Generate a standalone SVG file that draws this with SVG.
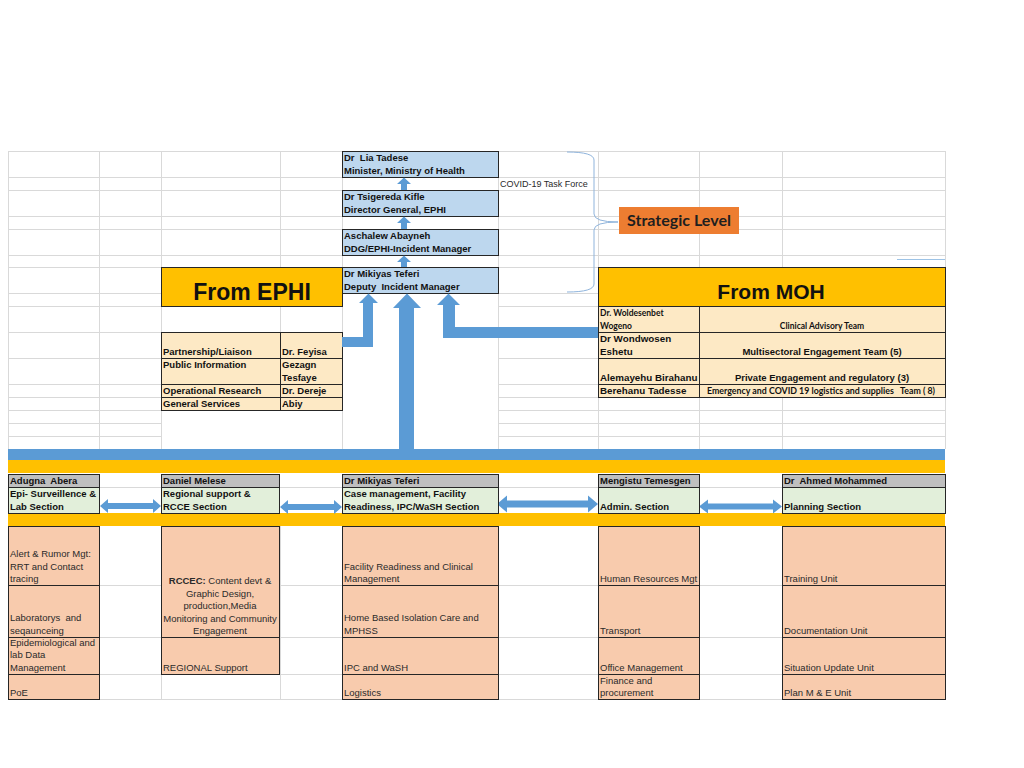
<svg xmlns="http://www.w3.org/2000/svg" width="1024" height="768" viewBox="0 0 1024 768">
<style>
.grid line{stroke:#D9D9D9;stroke-width:1}
.bx{stroke:#262626;stroke-width:1}
.blue{fill:#BDD7EE}
.gold{fill:#FFC000}
.cream{fill:#FDE9C5}
.peach{fill:#F8CBAD}
.hdr{fill:#BFBFBF}
.grn{fill:#E2EFDA}
.arr{fill:#5B9BD5}
.b{font-family:"Liberation Sans",Arial,sans-serif;font-weight:bold;font-size:9.5px;fill:#111;white-space:pre}
.r{font-family:"Liberation Sans",Arial,sans-serif;font-size:9.5px;fill:#2a2a2a;white-space:pre}
.c{font-family:Lato,"Liberation Sans",sans-serif;font-weight:bold;font-size:8.5px;fill:#111;white-space:pre}
.mid{text-anchor:middle}
</style>
<rect width="1024" height="768" fill="#fff"/>
<g id="grid" class="grid">
<line x1="8" y1="151.5" x2="945" y2="151.5"/><line x1="8" y1="177.5" x2="945" y2="177.5"/>
<line x1="8" y1="190.5" x2="945" y2="190.5"/><line x1="8" y1="216.5" x2="945" y2="216.5"/>
<line x1="8" y1="229.5" x2="945" y2="229.5"/><line x1="8" y1="255.5" x2="945" y2="255.5"/>
<line x1="8" y1="267.5" x2="945" y2="267.5"/><line x1="8" y1="293.5" x2="945" y2="293.5"/>
<line x1="8" y1="306.5" x2="945" y2="306.5"/><line x1="8" y1="332.5" x2="945" y2="332.5"/>
<line x1="8" y1="358.5" x2="945" y2="358.5"/><line x1="8" y1="384.5" x2="945" y2="384.5"/>
<line x1="8" y1="397.5" x2="945" y2="397.5"/><line x1="8" y1="410.5" x2="945" y2="410.5"/>
<line x1="8" y1="423.5" x2="945" y2="423.5"/><line x1="8" y1="436.5" x2="945" y2="436.5"/>
<line x1="8.5" y1="151" x2="8.5" y2="449"/><line x1="99.5" y1="151" x2="99.5" y2="449"/>
<line x1="161.5" y1="151" x2="161.5" y2="449"/><line x1="280.5" y1="151" x2="280.5" y2="449"/>
<line x1="342.5" y1="151" x2="342.5" y2="449"/><line x1="498.5" y1="151" x2="498.5" y2="449"/>
<line x1="598.5" y1="151" x2="598.5" y2="449"/><line x1="699.5" y1="151" x2="699.5" y2="449"/>
<line x1="782.5" y1="151" x2="782.5" y2="449"/><line x1="945.5" y1="151" x2="945.5" y2="449"/>
<line x1="8" y1="487.5" x2="945" y2="487.5"/>
<line x1="8" y1="585.5" x2="945" y2="585.5"/><line x1="8" y1="637.5" x2="945" y2="637.5"/>
<line x1="8" y1="674.5" x2="945" y2="674.5"/><line x1="8" y1="699.5" x2="945" y2="699.5"/>
<line x1="8.5" y1="526" x2="8.5" y2="699"/><line x1="99.5" y1="526" x2="99.5" y2="699"/>
<line x1="161.5" y1="526" x2="161.5" y2="699"/><line x1="280.5" y1="526" x2="280.5" y2="699"/>
<line x1="342.5" y1="526" x2="342.5" y2="699"/><line x1="498.5" y1="526" x2="498.5" y2="699"/>
<line x1="598.5" y1="526" x2="598.5" y2="699"/><line x1="699.5" y1="526" x2="699.5" y2="699"/>
<line x1="782.5" y1="526" x2="782.5" y2="699"/><line x1="945.5" y1="526" x2="945.5" y2="699"/>
<line x1="897" y1="259.5" x2="945" y2="259.5" style="stroke:#9DC3E6"/>
</g>
<rect x="343" y="294" width="155" height="155" fill="#fff"/>
<rect x="162" y="411" width="180" height="38" fill="#fff"/>

<g id="bars">
<rect x="8" y="449" width="937" height="11" fill="#5B9BD5"/>
<rect x="8" y="460" width="937" height="13" fill="#FFC000"/>
<rect x="8" y="513" width="937" height="13" fill="#FFC000"/>
</g>

<g id="node-minister"><rect class="bx blue" x="342.5" y="151.5" width="156" height="26"/>
<text class="b" x="344" y="161">Dr  Lia Tadese</text><text class="b" x="344" y="174">Minister, Ministry of Health</text></g>
<g id="node-dg"><rect class="bx blue" x="342.5" y="190.5" width="156" height="26"/>
<text class="b" x="344" y="200">Dr Tsigereda Kifle</text><text class="b" x="344" y="213">Director General, EPHI</text></g>
<g id="node-ddg"><rect class="bx blue" x="342.5" y="229.5" width="156" height="26"/>
<text class="b" x="344" y="239">Aschalew Abayneh</text><text class="b" x="344" y="252">DDG/EPHI-Incident Manager</text></g>
<g id="node-deputy"><rect class="bx blue" x="342.5" y="267.5" width="156" height="26"/>
<text class="b" x="344" y="277">Dr Mikiyas Teferi</text><text class="b" x="344" y="290">Deputy  Incident Manager</text></g>

<g id="taskforce"><text class="r" x="500" y="187" style="font-size:9px">COVID-19 Task Force</text>
<path d="M567,152 Q594,152 594,160 L594,214 Q594,222 618,222 Q594,222 594,230 L594,284 Q594,292 567,292" fill="none" stroke="#8FB4DC" stroke-width="1"/></g>
<g id="node-strategic"><rect x="619" y="207" width="120" height="27" fill="#ED7D31"/>
<text x="679" y="226" text-anchor="middle" style="font-family:Lato,'Liberation Sans',sans-serif;font-weight:bold;font-size:16px;fill:#1F1F1F" textLength="104" lengthAdjust="spacingAndGlyphs">Strategic Level</text></g>

<g id="node-from-ephi"><rect class="bx gold" x="161.5" y="267.5" width="181" height="39"/>
<text x="252" y="300" text-anchor="middle" style="font-family:'Liberation Sans',Arial,sans-serif;font-weight:bold;font-size:23px;fill:#111">From EPHI</text></g>
<g id="node-ephi-table">
<rect class="bx cream" x="161.5" y="332.5" width="119" height="26"/><rect class="bx cream" x="280.5" y="332.5" width="62" height="26"/>
<rect class="bx cream" x="161.5" y="358.5" width="119" height="26"/><rect class="bx cream" x="280.5" y="358.5" width="62" height="26"/>
<rect class="bx cream" x="161.5" y="384.5" width="119" height="13"/><rect class="bx cream" x="280.5" y="384.5" width="62" height="13"/>
<rect class="bx cream" x="161.5" y="397.5" width="119" height="13"/><rect class="bx cream" x="280.5" y="397.5" width="62" height="13"/>
<text class="b" x="163" y="355">Partnership/Liaison</text><text class="b" x="282" y="355">Dr. Feyisa</text>
<text class="b" x="163" y="368">Public Information</text><text class="b" x="282" y="368">Gezagn</text><text class="b" x="282" y="381">Tesfaye</text>
<text class="b" x="163" y="394">Operational Research</text><text class="b" x="282" y="394">Dr. Dereje</text>
<text class="b" x="163" y="407">General Services</text><text class="b" x="282" y="407">Abiy</text>
</g>

<g id="node-from-moh"><rect class="bx gold" x="598.5" y="267.5" width="347" height="39"/>
<text x="771" y="299" text-anchor="middle" style="font-family:'Liberation Sans',Arial,sans-serif;font-weight:bold;font-size:21px;fill:#111">From MOH</text></g>
<g id="node-moh-table">
<rect class="bx cream" x="598.5" y="306.5" width="101" height="26"/><rect class="bx cream" x="699.5" y="306.5" width="246" height="26"/>
<rect class="bx cream" x="598.5" y="332.5" width="101" height="26"/><rect class="bx cream" x="699.5" y="332.5" width="246" height="26"/>
<rect class="bx cream" x="598.5" y="358.5" width="101" height="26"/><rect class="bx cream" x="699.5" y="358.5" width="246" height="26"/>
<rect class="bx cream" x="598.5" y="384.5" width="101" height="13"/><rect class="bx cream" x="699.5" y="384.5" width="246" height="13"/>
<text class="c" x="600" y="316">Dr. Woldesenbet</text><text class="c" x="600" y="329">Wogeno</text>
<text class="c mid" x="822" y="329">Clinical Advisory Team</text>
<text class="b" x="600" y="342" style="font-size:9.8px">Dr Wondwosen</text><text class="b" x="600" y="355" style="font-size:9.8px">Eshetu</text>
<text class="b mid" x="822" y="355">Multisectoral Engagement Team (5)</text>
<text class="b" x="600" y="381" style="font-size:9.8px">Alemayehu Birahanu</text>
<text class="b mid" x="822" y="381">Private Engagement and regulatory (3)</text>
<text class="b" x="600" y="394" style="font-size:9.8px">Berehanu Tadesse</text>
<text class="c mid" x="821" y="394" textLength="228" lengthAdjust="spacingAndGlyphs">Emergency and COVID 19 logistics and supplies   Team ( 8)</text>
</g>

<g id="connectors">
<path class="arr" d="M404,177.5 L411,184 L407,184 L407,190 L401,190 L401,184 L397,184 Z"/>
<path class="arr" d="M404,216.5 L411,223 L407,223 L407,229 L401,229 L401,223 L397,223 Z"/>
<path class="arr" d="M404,255.5 L411,262 L407,262 L407,267 L401,267 L401,262 L397,262 Z"/>
<path class="arr" d="M342,337 L363,337 L363,303 L359,303 L368.5,293.5 L378,303 L373,303 L373,347 L342,347 Z"/>
<path class="arr" d="M407,293.5 L421,308 L414,308 L414,449 L399,449 L399,308 L393,308 Z"/>
<path class="arr" d="M448.5,293.5 L460,305 L455,305 L455,327 L598,327 L598,338 L443,338 L443,305 L437,305 Z"/>
<path class="arr" d="M100,506 L108,499 L108,503 L153,503 L153,499 L161,506 L153,513 L153,509 L108,509 L108,513 Z"/>
<path class="arr" d="M280,507 L288,500 L288,504 L334,504 L334,500 L342,507 L334,514 L334,510 L288,510 L288,514 Z"/>
<path class="arr" d="M497,504 L507,495.5 L507,500.5 L588,500.5 L588,495.5 L598,504 L588,512.5 L588,507.5 L507,507.5 L507,512.5 Z"/>
<path class="arr" d="M699,506.5 L708,499.5 L708,503.5 L773,503.5 L773,499.5 L782,506.5 L773,513.5 L773,509.5 L708,509.5 L708,513.5 Z"/>
</g>

<g id="section-epi"><rect class="bx hdr" x="8.5" y="474.5" width="91" height="13"/><rect class="bx grn" x="8.5" y="487.5" width="91" height="26"/>
<text class="b" x="10" y="484">Adugna  Abera</text><text class="b" x="10" y="497">Epi- Surveillence &amp;</text><text class="b" x="10" y="510">Lab Section</text></g>
<g id="section-rcce"><rect class="bx hdr" x="161.5" y="474.5" width="118" height="13"/><rect class="bx grn" x="161.5" y="487.5" width="118" height="26"/>
<text class="b" x="163" y="484">Daniel Melese</text><text class="b" x="163" y="497">Regional support &amp;</text><text class="b" x="163" y="510">RCCE Section</text></g>
<g id="section-case"><rect class="bx hdr" x="342.5" y="474.5" width="156" height="13"/><rect class="bx grn" x="342.5" y="487.5" width="156" height="26"/>
<text class="b" x="344" y="484">Dr Mikiyas Teferi</text><text class="b" x="344" y="497">Case management, Facility</text><text class="b" x="344" y="510">Readiness, IPC/WaSH Section</text></g>
<g id="section-admin"><rect class="bx hdr" x="598.5" y="474.5" width="101" height="13"/><rect class="bx grn" x="598.5" y="487.5" width="101" height="26"/>
<text class="b" x="600" y="484">Mengistu Temesgen</text><text class="b" x="600" y="510">Admin. Section</text></g>
<g id="section-planning"><rect class="bx hdr" x="782.5" y="474.5" width="163" height="13"/><rect class="bx grn" x="782.5" y="487.5" width="163" height="26"/>
<text class="b" x="784" y="484">Dr  Ahmed Mohammed</text><text class="b" x="784" y="510">Planning Section</text></g>

<g id="units-epi">
<rect class="bx peach" x="8.5" y="526.5" width="91" height="59"/><rect class="bx peach" x="8.5" y="585.5" width="91" height="52"/>
<rect class="bx peach" x="8.5" y="637.5" width="91" height="37"/><rect class="bx peach" x="8.5" y="674.5" width="91" height="25"/>
<text class="r" x="10" y="557">Alert &amp; Rumor Mgt:</text><text class="r" x="10" y="569.5">RRT and Contact</text><text class="r" x="10" y="582">tracing</text>
<text class="r" x="10" y="621">Laboratorys  and</text><text class="r" x="10" y="633.5">seqaunceing</text>
<text class="r" x="10" y="645.5">Epidemiological and</text><text class="r" x="10" y="658">lab Data</text><text class="r" x="10" y="670.5">Management</text>
<text class="r" x="10" y="696">PoE</text>
</g>
<g id="units-rcce">
<rect class="bx peach" x="161.5" y="526.5" width="118" height="111"/><rect class="bx peach" x="161.5" y="637.5" width="118" height="37"/>
<text class="r mid" x="220" y="584"><tspan font-weight="bold">RCCEC:</tspan> Content devt &amp;</text>
<text class="r mid" x="220" y="596.5">Graphic Design,</text><text class="r mid" x="220" y="609">production,Media</text>
<text class="r mid" x="220" y="621.5">Monitoring and Community</text><text class="r mid" x="220" y="634">Engagement</text>
<text class="r" x="163" y="670.5">REGIONAL Support</text>
</g>
<g id="units-case">
<rect class="bx peach" x="342.5" y="526.5" width="156" height="59"/><rect class="bx peach" x="342.5" y="585.5" width="156" height="52"/>
<rect class="bx peach" x="342.5" y="637.5" width="156" height="37"/><rect class="bx peach" x="342.5" y="674.5" width="156" height="25"/>
<text class="r" x="344" y="569.5">Facility Readiness and Clinical</text><text class="r" x="344" y="582">Management</text>
<text class="r" x="344" y="621">Home Based Isolation Care and</text><text class="r" x="344" y="633.5">MPHSS</text>
<text class="r" x="344" y="670.5">IPC and WaSH</text><text class="r" x="344" y="696">Logistics</text>
</g>
<g id="units-admin">
<rect class="bx peach" x="598.5" y="526.5" width="101" height="59"/><rect class="bx peach" x="598.5" y="585.5" width="101" height="52"/>
<rect class="bx peach" x="598.5" y="637.5" width="101" height="37"/><rect class="bx peach" x="598.5" y="674.5" width="101" height="25"/>
<text class="r" x="600" y="582">Human Resources Mgt</text><text class="r" x="600" y="633.5">Transport</text>
<text class="r" x="600" y="670.5">Office Management</text><text class="r" x="600" y="683.5">Finance and</text><text class="r" x="600" y="696">procurement</text>
</g>
<g id="units-planning">
<rect class="bx peach" x="782.5" y="526.5" width="163" height="59"/><rect class="bx peach" x="782.5" y="585.5" width="163" height="52"/>
<rect class="bx peach" x="782.5" y="637.5" width="163" height="37"/><rect class="bx peach" x="782.5" y="674.5" width="163" height="25"/>
<text class="r" x="784" y="582">Training Unit</text><text class="r" x="784" y="633.5">Documentation Unit</text>
<text class="r" x="784" y="670.5">Situation Update Unit</text><text class="r" x="784" y="696">Plan M &amp; E Unit</text>
</g>
</svg>
